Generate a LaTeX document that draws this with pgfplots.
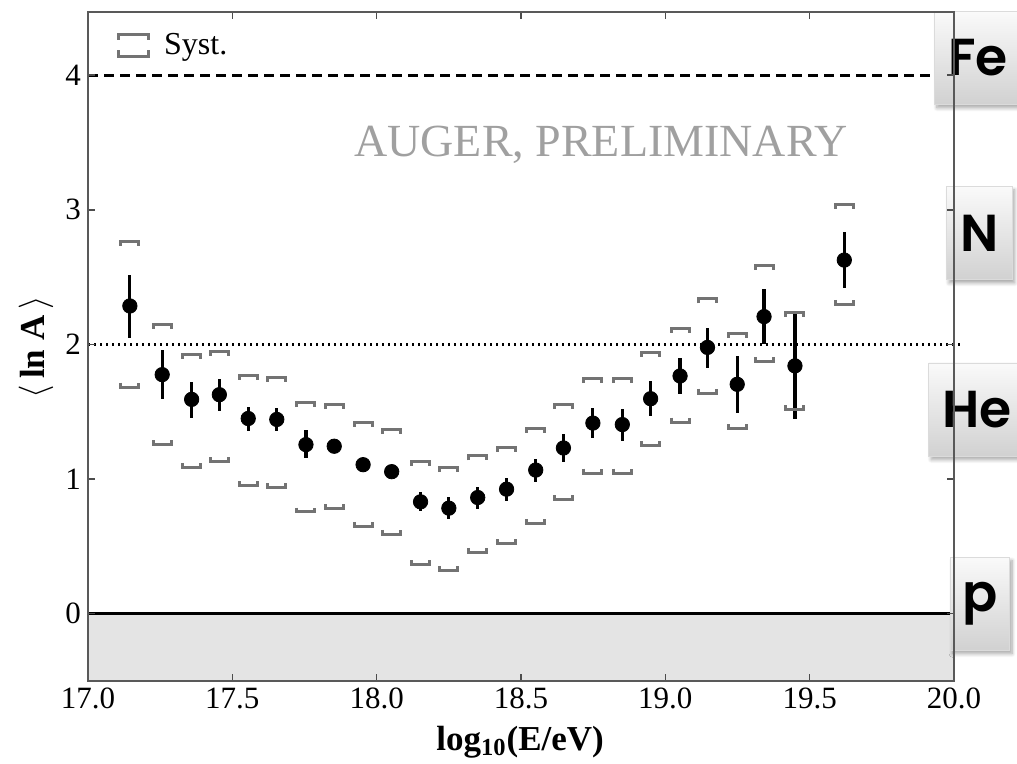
\documentclass[border=0pt]{standalone}
\usepackage{fontspec}
\setmainfont{Liberation Serif}
\newfontfamily\boxfont{Poppins SemiBold}
\usepackage{pgfplots}
\pgfplotsset{compat=1.18}
\usepackage{pgfplotstable}
\usetikzlibrary{shadows.blur}
\definecolor{systgray}{HTML}{737373}
\definecolor{lowfill}{HTML}{E4E4E4}
\definecolor{watermark}{HTML}{A0A0A0}

\pgfdeclareplotmark{systup}{%
  \pgfpathmoveto{\pgfpoint{-4.5pt}{-2.2pt}}%
  \pgfpathlineto{\pgfpoint{-4.5pt}{0pt}}%
  \pgfpathlineto{\pgfpoint{4.5pt}{0pt}}%
  \pgfpathlineto{\pgfpoint{4.5pt}{-2.2pt}}%
  \pgfusepathqstroke}
\pgfdeclareplotmark{systlow}{%
  \pgfpathmoveto{\pgfpoint{-4.5pt}{2.2pt}}%
  \pgfpathlineto{\pgfpoint{-4.5pt}{0pt}}%
  \pgfpathlineto{\pgfpoint{4.5pt}{0pt}}%
  \pgfpathlineto{\pgfpoint{4.5pt}{2.2pt}}%
  \pgfusepathqstroke}

\pgfplotstableread{
x      y      ep     em     su     sl
17.145 2.286  0.230  0.240  2.766  1.684
17.257 1.776  0.180  0.180  2.149  1.254
17.359 1.592  0.130  0.135  1.928  1.087
17.455 1.627  0.120  0.120  1.950  1.129
17.555 1.450  0.085  0.090  1.771  0.950
17.654 1.443  0.085  0.087  1.756  0.938
17.755 1.256  0.105  0.100  1.567  0.756
17.853 1.244  0.050  0.050  1.552  0.781
17.953 1.107  0.050  0.050  1.423  0.647
18.052 1.055  0.050  0.050  1.366  0.590
18.152 0.831  0.070  0.067  1.132  0.366
18.250 0.784  0.080  0.077  1.085  0.323
18.350 0.863  0.080  0.082  1.172  0.457
18.450 0.925  0.082  0.087  1.234  0.522
18.551 1.067  0.082  0.087  1.378  0.672
18.647 1.231  0.105  0.106  1.552  0.848
18.749 1.416  0.112  0.112  1.746  1.045
18.851 1.405  0.112  0.119  1.746  1.045
18.949 1.597  0.132  0.129  1.940  1.249
19.051 1.766  0.135  0.132  2.119  1.423
19.146 1.978  0.146  0.150  2.338  1.639
19.249 1.704  0.212  0.211  2.080  1.373
19.342 2.207  0.206  0.207  2.587  1.875
19.449 1.841  0.408  0.398  2.239  1.517
19.620 2.627  0.207  0.209  3.040  2.299
}\lnadata

\begin{document}
\begin{tikzpicture}
\begin{axis}[
  scale only axis, width=433pt, height=334.5pt,
  xmin=17, xmax=20, ymin=-0.5, ymax=4.47,
  xtick={17,17.5,18,18.5,19,19.5,20},
  ytick={0,1,2,3,4},
  xticklabel style={/pgf/number format/.cd, fixed, fixed zerofill, precision=1},
  /pgf/number format/assume math mode=true,
  ticklabel style={font=\fontsize{15.5}{17}\selectfont},
  tick align=inside, major tick length=3.5pt,
  axis line style={black!65, line width=0.8pt},
  tick style={black!70, line width=0.8pt},
  clip=false, axis on top,
  xlabel={\textbf{log\textsubscript{10}(E/eV)}},
  ylabel={$\langle$\,\textbf{ln A}\,$\rangle$},
  label style={font=\fontsize{17.5}{19}\selectfont},
  xlabel style={at={(axis description cs:0.499,-0.091)}, anchor=center},
  ylabel style={at={(axis description cs:-0.060,0.499)}, anchor=center},
  legend style={at={(rel axis cs:0.028,0.981)}, anchor=north west, draw=none, fill=none,
    font=\fontsize{16}{18}\selectfont, inner sep=2pt},
  legend cell align=left,
]
\addplot[draw=none, fill=lowfill, forget plot] coordinates {(17,-0.5) (20,-0.5) (20,0) (17,0)} --cycle;
\addplot[black, line width=1.2pt, forget plot] coordinates {(17,0) (20,0)};
\addplot[black, line width=1.3pt, dash pattern=on 5pt off 3pt, forget plot] coordinates {(17,4) (20,4)};
\addplot[black, line width=1.1pt, dash pattern=on 1pt off 2pt, forget plot] coordinates {(17,2) (20.02,2)};

\addlegendimage{legend image code/.code={
  \draw[systgray, line width=1.5pt] (0pt,2.6pt) -- (0pt,5.5pt) -- (15pt,5.5pt) -- (15pt,2.6pt);
  \draw[systgray, line width=1.5pt] (0pt,-2.6pt) -- (0pt,-5.5pt) -- (15pt,-5.5pt) -- (15pt,-2.6pt);
  \path[draw=none] (21pt,0pt);
}}
\addlegendentry{Syst.}

\addplot[only marks, mark=systup, systgray, mark options={line width=1.5pt}, forget plot]
  table[x=x, y=su] {\lnadata};
\addplot[only marks, mark=systlow, systgray, mark options={line width=1.5pt}, forget plot]
  table[x=x, y=sl] {\lnadata};
\addplot[only marks, mark=*, mark size=3.6pt, black, forget plot,
  error bars/.cd, y dir=both, y explicit,
  error bar style={line width=1.6pt, black}, error mark=none]
  table[x=x, y=y, y error plus=ep, y error minus=em] {\lnadata};

\node[anchor=base, text=watermark, font=\fontsize{23}{26}\selectfont]
  at (axis cs:18.777,3.398) {AUGER, PRELIMINARY};

\tikzset{elembox/.style={top color=black!2, bottom color=black!18, draw=black!14, line width=0.4pt,
  blur shadow={shadow blur steps=8, shadow xshift=1.2pt, shadow yshift=-1.8pt, shadow opacity=35},
  minimum height=46.5pt, inner xsep=6.8pt,
  font=\boxfont\fontsize{26}{28}\selectfont, text=black}}
\node[elembox] at (axis cs:20.083,4.13) {Fe};
\node[elembox] at (axis cs:20.088,2.829) {N};
\node[elembox] at (axis cs:20.080,1.517) {He};
\node[elembox, inner xsep=6pt] at (axis cs:20.09,0.075) {p};

\coordinate (SW) at (rel axis cs:0,0);
\coordinate (NE) at (rel axis cs:1,1);
\end{axis}
\pgfresetboundingbox
\path[use as bounding box] ([xshift=-44pt,yshift=-41.5pt]SW) rectangle ([xshift=31.5pt,yshift=6pt]NE);
\end{tikzpicture}
\end{document}
